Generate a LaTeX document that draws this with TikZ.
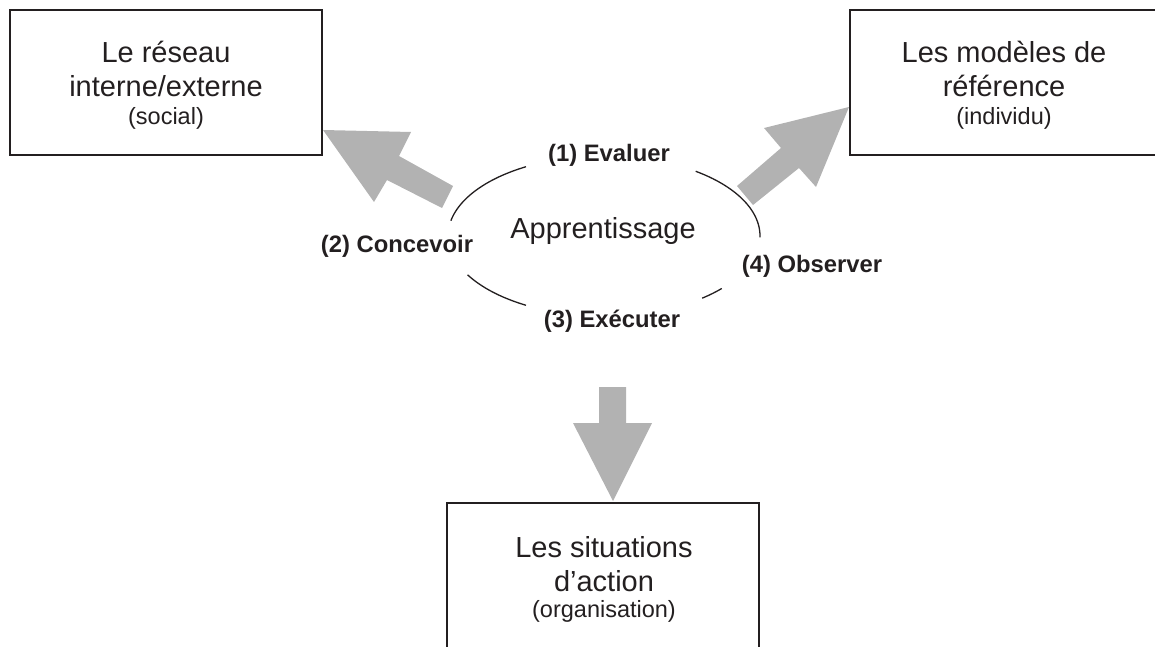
\documentclass[tikz,border=0pt]{standalone}
\usepackage{fontspec}
\setmainfont{Liberation Sans}
\definecolor{arrowgray}{RGB}{178,178,178}
\definecolor{ink}{RGB}{35,31,32}
\begin{document}
\begin{tikzpicture}[x=1pt,y=-1pt,
  box/.style={draw=ink, line width=1.8pt, inner sep=0pt},
  title/.style={font=\fontsize{29}{33}\selectfont, anchor=base, inner sep=0pt, text=ink},
  sub/.style={font=\fontsize{23.5}{27}\selectfont, anchor=base, inner sep=0pt, text=ink},
  lab/.style={font=\bfseries\fontsize{23.8}{27}\selectfont, anchor=base, inner sep=0pt, text=ink},
  bigarrow/.style={fill=arrowgray, draw=none},
  loop/.style={draw=ink, line width=1.3pt}]
\clip (0,0) rectangle (1155,647);

% boxes
\node[box, minimum width=312pt, minimum height=145pt] (reseau) at (166,82.5) {};
\node[box, minimum width=308pt, minimum height=145pt] (modeles) at (1004,82.5) {};
\node[box, minimum width=312pt, minimum height=170pt] (situations) at (603,588) {};

% box texts
\node[title] (r1) at (166,63) {Le réseau};
\node[title] (r2) at (166,97) {interne/externe};
\node[sub]   (r3) at (166,125) {(social)};
\node[title] (m1) at (1004,63) {Les modèles de};
\node[title] (m2) at (1004,97) {référence};
\node[sub]   (m3) at (1004,125) {(individu)};
\node[title] (s1) at (604,557) {Les situations};
\node[title] (s2) at (604,591) {d’action};
\node[sub]   (s3) at (604,617) {(organisation)};

% learning loop
\node[title] (app) at (603,238) {Apprentissage};
\draw[loop] plot[domain=120:169, samples=40] ({604+156*cos(\x)},{236-80*sin(\x)});
\draw[loop] plot[domain=-1:54, samples=40] ({604+156*cos(\x)},{236-80*sin(\x)});
\draw[loop] plot[domain=209:240, samples=30] ({604+156*cos(\x)},{236-80*sin(\x)});
\draw[loop] plot[domain=-51:-41, samples=15] ({604+156*cos(\x)},{236-80*sin(\x)});

\node[lab] (l1) at (609,162) {(1) Evaluer};
\node[lab] (l2) at (397,252) {(2) Concevoir};
\node[lab] (l3) at (612,327) {(3) Exécuter};
\node[lab] (l4) at (812,272) {(4) Observer};

% big arrows
\fill[bigarrow] (323,130) -- (411,132) -- (399,156) -- (453,186) -- (442,208)
  -- (387,180) -- (374,202) -- cycle;
\fill[bigarrow] (849,107) -- (764,128) -- (781,148) -- (737,186) -- (753,205)
  -- (799,168) -- (816,187) -- cycle;
\fill[bigarrow] (599,387) -- (626,387) -- (626,423) -- (652,423) -- (613,501)
  -- (573,423) -- (599,423) -- cycle;
\end{tikzpicture}
\end{document}
